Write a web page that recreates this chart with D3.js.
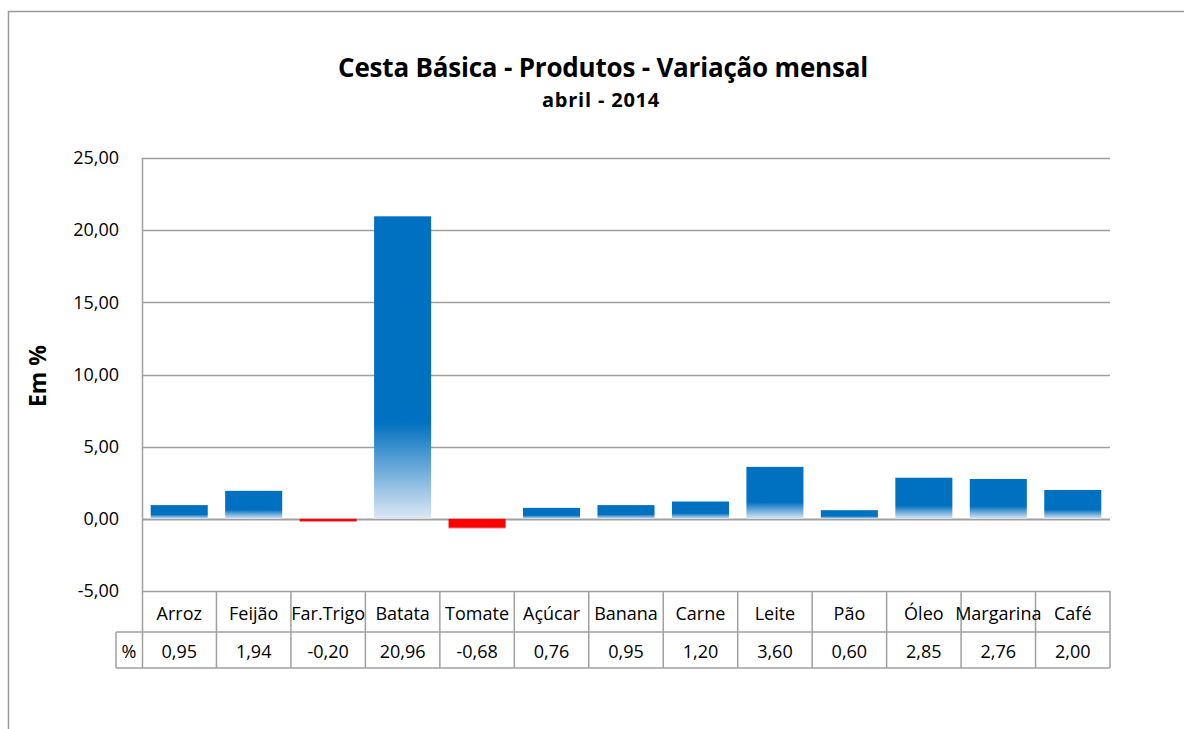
<!DOCTYPE html>
<html>
<head>
<meta charset="utf-8">
<script src="https://cdn.jsdelivr.net/npm/d3@7"></script>
<style>
  html, body { margin: 0; padding: 0; background: #fff; }
  svg { display: block; }
  text { font-family: "Open Sans", Lato, sans-serif; fill: #000; }
</style>
</head>
<body>
<svg id="chart" width="1184" height="729"></svg>
<script>
const categories = ["Arroz", "Feijão", "Far.Trigo", "Batata", "Tomate", "Açúcar", "Banana", "Carne", "Leite", "Pão", "Óleo", "Margarina", "Café"];
const values = [0.95, 1.94, -0.20, 20.96, -0.68, 0.76, 0.95, 1.20, 3.60, 0.60, 2.85, 2.76, 2.00];
const yTicks = [-5, 0, 5, 10, 15, 20, 25];
const titleText = "Cesta Básica - Produtos - Variação mensal";
const subtitleText = "abril - 2014";
const yAxisTitle = "Em %";
const rowHeader = "%";

const svg = d3.select("#chart");
const W = 1184, H = 729;
const pLeft = 142, pRight = 1110, pTop = 158, pBottom = 591;
const row1 = 632, row2 = 668, hdrLeft = 116;
const gridColor = "#a0a0a0";

const locale = d3.formatLocale({decimal: ",", thousands: ".", grouping: [3], currency: ["", ""], minus: "-"});
const fmt = locale.format(".2f");

const y = d3.scaleLinear().domain([-5, 25]).range([pBottom, pTop]);
const x = d3.scaleBand().domain(categories).range([pLeft, pRight]).paddingInner(0.234).paddingOuter(0.117);
const xCell = d3.scaleBand().domain(categories).range([pLeft, pRight]).padding(0);

// outer frame
svg.append("path").attr("d", `M8.5,${H} L8.5,11.5 L${W},11.5`).attr("fill", "none").attr("stroke", "#9a9a9a").attr("stroke-width", 1.5);

// title
svg.append("text").attr("x", 603).attr("y", 77).attr("text-anchor", "middle")
  .attr("font-weight", "bold").attr("font-size", 26).attr("letter-spacing", -0.2).text(titleText);
svg.append("text").attr("x", 601).attr("y", 107).attr("text-anchor", "middle")
  .attr("font-weight", "bold").attr("font-size", 20).attr("letter-spacing", 0.8).text(subtitleText);

// gradients
const defs = svg.append("defs");
values.forEach((v, i) => {
  const g = defs.append("linearGradient").attr("id", "g" + i)
    .attr("x1", 0).attr("y1", 0).attr("x2", 0).attr("y2", 1);
  if (v >= 0) {
    g.append("stop").attr("offset", 0).attr("stop-color", "#0070C0");
    g.append("stop").attr("offset", 0.68).attr("stop-color", "#0070C0");
    g.append("stop").attr("offset", 1).attr("stop-color", "#dde8f5");
  } else {
    g.append("stop").attr("offset", 0).attr("stop-color", "#FF0000");
    g.append("stop").attr("offset", 0.82).attr("stop-color", "#FF0000");
    g.append("stop").attr("offset", 1).attr("stop-color", "#f7a8b4");
  }
});

// gridlines (including zero line)
svg.append("g").selectAll("line").data(yTicks).join("line")
  .attr("x1", pLeft).attr("x2", pRight)
  .attr("y1", d => Math.round(y(d)) + 0.5).attr("y2", d => Math.round(y(d)) + 0.5)
  .attr("stroke", gridColor).attr("stroke-width", d => d === 0 ? 2 : 1.5);

// y-axis tick labels
const yAxis = d3.axisLeft(y).tickValues(yTicks).tickFormat(fmt).tickSize(0).tickPadding(23);
const ya = svg.append("g").attr("transform", `translate(${pLeft},0)`).call(yAxis);
ya.select(".domain").remove();
ya.selectAll("text").attr("font-size", 18).attr("font-family", "'Open Sans', sans-serif").attr("fill", "#000");

// y-axis title
svg.append("text").attr("transform", `translate(46,376) rotate(-90)`).attr("text-anchor", "middle")
  .attr("font-weight", "bold").attr("font-size", 23).text(yAxisTitle);

// bars
svg.append("g").selectAll("rect").data(values).join("rect")
  .attr("x", (d, i) => x(categories[i]))
  .attr("width", x.bandwidth())
  .attr("y", d => y(Math.max(0, d)))
  .attr("height", d => Math.abs(y(d) - y(0)))
  .attr("fill", (d, i) => `url(#g${i})`);

// y axis line extends through table
svg.append("line").attr("x1", pLeft + 0.5).attr("x2", pLeft + 0.5).attr("y1", pTop).attr("y2", row2)
  .attr("stroke", gridColor).attr("stroke-width", 1.5);

// table
const tbl = svg.append("g");
tbl.append("line").attr("x1", hdrLeft).attr("x2", pRight).attr("y1", row1).attr("y2", row1).attr("stroke", gridColor).attr("stroke-width", 1.5);
tbl.append("line").attr("x1", hdrLeft).attr("x2", pRight).attr("y1", row2).attr("y2", row2).attr("stroke", gridColor).attr("stroke-width", 1.5);
tbl.append("line").attr("x1", hdrLeft).attr("x2", hdrLeft).attr("y1", row1).attr("y2", row2).attr("stroke", gridColor).attr("stroke-width", 1.5);
tbl.selectAll("line.sep").data(categories).join("line").attr("class", "sep")
  .attr("x1", d => xCell(d) + xCell.bandwidth()).attr("x2", d => xCell(d) + xCell.bandwidth())
  .attr("y1", pBottom).attr("y2", row2).attr("stroke", gridColor).attr("stroke-width", 1.5);

tbl.selectAll("text.cat").data(categories).join("text").attr("class", "cat")
  .attr("x", d => xCell(d) + xCell.bandwidth() / 2).attr("y", 620)
  .attr("text-anchor", "middle").attr("font-size", 18).text(d => d);
tbl.selectAll("text.val").data(values).join("text").attr("class", "val")
  .attr("x", (d, i) => xCell(categories[i]) + xCell.bandwidth() / 2).attr("y", 658)
  .attr("text-anchor", "middle").attr("font-size", 18).text(d => fmt(d));
tbl.append("text").attr("x", (hdrLeft + pLeft) / 2).attr("y", 658).attr("text-anchor", "middle")
  .attr("font-size", 18).text(rowHeader);
</script>
</body>
</html>
